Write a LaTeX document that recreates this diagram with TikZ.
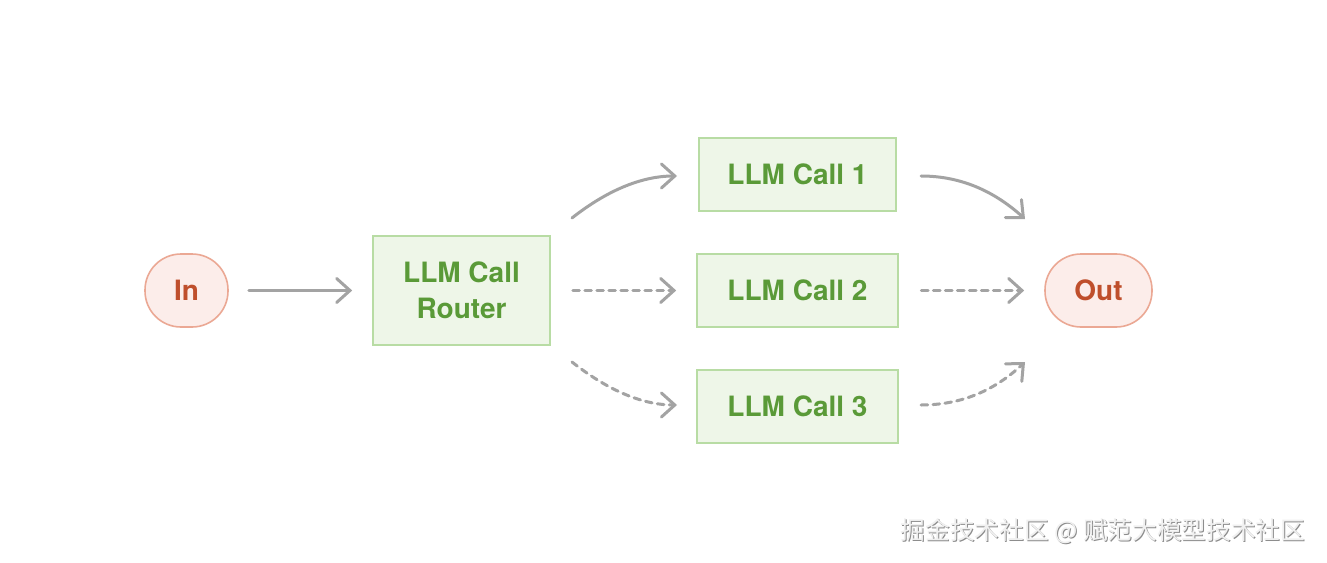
\documentclass[tikz,border=0pt]{standalone}
\usepackage{fontspec}
\setmainfont{TeX Gyre Heros}
\newfontfamily\cjk{Noto Sans CJK SC}
\usetikzlibrary{arrows.meta}
\definecolor{gfill}{HTML}{EEF6E8}
\definecolor{gdraw}{HTML}{B8DCA4}
\definecolor{gtext}{HTML}{5A9A38}
\definecolor{pfill}{HTML}{FCEDEA}
\definecolor{pdraw}{HTML}{EBA894}
\definecolor{ptext}{HTML}{BF4F2C}
\definecolor{agray}{HTML}{A3A3A3}
\tikzset{
  callbox/.style={draw=gdraw, fill=gfill, line width=1.2pt, text=gtext, font=\fontsize{21}{27}\selectfont\bfseries, align=center, minimum height=54.75pt, inner sep=0pt},
  term/.style={draw=pdraw, fill=pfill, line width=1.2pt, text=ptext, font=\fontsize{21}{27}\selectfont\bfseries, minimum height=54.75pt, rounded corners=27pt, inner sep=0pt},
  arr/.style={draw=agray, line width=2.25pt, line cap=round, -{Straight Barb[length=10pt,width=18pt,line cap=round]}},
  dotarr/.style={arr, dash pattern=on 5pt off 4pt},
}
\begin{document}
\begin{tikzpicture}[x=0.75pt,y=-0.75pt]
\useasboundingbox[fill=white] (0,0) rectangle (1327,563);
\node[term, minimum width=62.25pt] (in) at (186.5,290.5) {In};
\node[term, minimum width=80.25pt] (out) at (1098.5,290.5) {Out};
\node[callbox, minimum width=132.75pt, minimum height=81.75pt] (router) at (461.5,290.5) {LLM Call\\Router};
\node[callbox, minimum width=147.75pt] (c1) at (797.5,174.5) {LLM Call 1};
\node[callbox, minimum width=150.75pt] (c2) at (797.5,290.5) {LLM Call 2};
\node[callbox, minimum width=150.75pt] (c3) at (797.5,406.5) {LLM Call 3};
% connector end points
\coordinate (r1s) at (572,218);
\coordinate (r1e) at (677,176);
\coordinate (r3s) at (572,362);
\coordinate (r3e) at (677,405);
\coordinate (o1s) at (921,176);
\coordinate (o1e) at (1025,219);
\coordinate (o3s) at (921,405);
\coordinate (o3e) at (1025,362);
\draw[arr, shorten <=15pt, shorten >=15pt] (in) -- (router);
\draw[arr] (r1s) .. controls (605,192) and (640,176) .. (r1e);
\draw[dotarr, shorten <=16.5pt, shorten >=15pt] (router) -- (c2);
\draw[dotarr] (r3s) .. controls (605,388) and (640,405) .. (r3e);
\draw[arr] (o1s) .. controls (962,176) and (995,192) .. (o1e);
\draw[dotarr, shorten <=17pt, shorten >=15pt] (c2) -- (out);
\draw[dotarr] (o3s) .. controls (962,405) and (995,390) .. (o3e);
% watermark
\node[anchor=east, text=black!45, font=\cjk\fontsize{18.5}{22}\selectfont] (wms) at (1311,532) {掘金技术社区 @ 赋范大模型技术社区};
\node[anchor=east, text=black!6, font=\cjk\fontsize{18.5}{22}\selectfont] (wm) at (1310,531) {掘金技术社区 @ 赋范大模型技术社区};
\end{tikzpicture}
\end{document}
